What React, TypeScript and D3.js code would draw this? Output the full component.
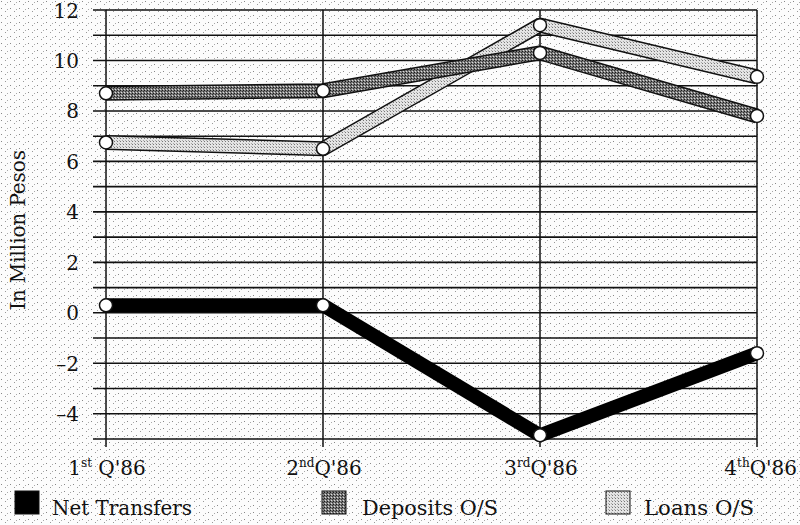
import React from "react";
import * as d3 from "d3";

const quarters = ["Q1", "Q2", "Q3", "Q4"];
const quarterNums = ["1", "2", "3", "4"];
const quarterSups = ["st", "nd", "rd", "th"];
const netTransfers = [0.3, 0.3, -4.85, -1.6];
const depositsOS = [8.7, 8.8, 10.3, 7.8];
const loansOS = [6.75, 6.5, 11.4, 9.35];
const yTicks = [-4, -2, 0, 2, 4, 6, 8, 10, 12];
const yGrid = d3.range(-5, 13);
const legendItems = ["Net Transfers", "Deposits O/S", "Loans O/S"];

const FONT = "'DejaVu Serif', serif";

export default function App() {
  const W = 800, H = 525;
  const x = d3.scalePoint<string>().domain(quarters).range([106, 757]);
  const y = d3.scaleLinear().domain([-5, 12]).range([439, 10]);
  const line = d3
    .line<number>()
    .x((_, i) => x(quarters[i]) as number)
    .y((d) => y(d));

  const band = (vals: number[], fill: string, key: string) => (
    <g key={key}>
      <path d={line(vals) || ""} fill="none" stroke="#111" strokeWidth={15} strokeLinejoin="round" />
      <path d={line(vals) || ""} fill="none" stroke={fill} strokeWidth={12} strokeLinejoin="round" />
    </g>
  );

  const circles = (vals: number[], key: string) =>
    vals.map((v, i) => (
      <circle key={key + i} cx={x(quarters[i])} cy={y(v)} r={6.5} fill="#fff" stroke="#111" strokeWidth={1.5} />
    ));

  const legendX = [15, 322, 606];
  const legendText = [52, 362, 644];
  const legendLen = [140, 136, 110];
  const legendFill = ["#000", "url(#darkDots)", "url(#lightDots)"];

  return (
    <svg width={W} height={H} style={{ position: "absolute", left: 0, top: 0 }}>
      <defs>
        <pattern id="bgDots" width="9" height="7" patternUnits="userSpaceOnUse">
          <rect width="9" height="7" fill="#fcfcfc" />
          <rect x="1" y="1" width="1" height="1" fill="#888" />
          <rect x="5" y="4" width="1" height="1" fill="#999" />
          <rect x="7" y="2" width="1" height="1" fill="#aaa" />
        </pattern>
        <pattern id="darkDots" width="3" height="3" patternUnits="userSpaceOnUse">
          <rect width="3" height="3" fill="#7a7a7a" />
          <rect x="0" y="0" width="1" height="1" fill="#1a1a1a" />
          <rect x="2" y="1" width="1" height="1" fill="#333" />
          <rect x="1" y="2" width="1" height="1" fill="#ddd" />
        </pattern>
        <pattern id="lightDots" width="3" height="3" patternUnits="userSpaceOnUse">
          <rect width="3" height="3" fill="#e4e4e4" />
          <rect x="0" y="0" width="1" height="1" fill="#777" />
          <rect x="2" y="2" width="1" height="1" fill="#aaa" />
        </pattern>
      </defs>
      <rect width={W} height={H} fill="url(#bgDots)" />

      {yGrid.map((v) => (
        <line key={"g" + v} x1={93} x2={757} y1={y(v)} y2={y(v)} stroke="#111" strokeWidth={1.6} />
      ))}
      {quarters.map((q) => (
        <line key={"v" + q} x1={x(q)} x2={x(q)} y1={y(12)} y2={447} stroke="#111" strokeWidth={1.5} />
      ))}

      {yTicks.map((v) => (
        <text key={"t" + v} x={79} y={y(v) + 7.5} textAnchor="end" fontFamily={FONT} fontSize={20} fill="#111">
          {v < 0 ? "–" + Math.abs(v) : String(v)}
        </text>
      ))}

      <text
        transform="translate(25,230) rotate(-90)"
        textAnchor="middle"
        fontFamily={FONT}
        fontSize={20}
        fill="#111"
        textLength={160}
        lengthAdjust="spacing"
      >
        In Million Pesos
      </text>

      {quarters.map((q, i) => (
        <text
          key={"x" + q}
          x={i === 3 ? 797 : (x(q) as number) + 1}
          y={475}
          textAnchor={i === 3 ? "end" : "middle"}
          fontFamily={FONT}
          fontSize={20}
          fill="#111"
        >
          {quarterNums[i]}
          <tspan fontSize={12} dy={-8}>{quarterSups[i]}</tspan>
          <tspan dy={8}>{i === 0 ? " Q'86" : "Q'86"}</tspan>
        </text>
      ))}

      <path d={line(netTransfers) || ""} fill="none" stroke="#000" strokeWidth={14} strokeLinejoin="round" />
      {band(loansOS, "url(#lightDots)", "loans")}
      {band(depositsOS, "url(#darkDots)", "dep")}
      {circles(netTransfers, "n")}
      {circles(loansOS, "l")}
      {circles(depositsOS, "d")}

      {legendItems.map((name, i) => (
        <g key={"lg" + i}>
          <rect x={legendX[i]} y={491} width={24} height={23} fill={legendFill[i]} stroke="#111" strokeWidth={1} />
          <text
            x={legendText[i]}
            y={515}
            fontFamily={FONT}
            fontSize={20}
            fill="#111"
            textLength={legendLen[i]}
            lengthAdjust="spacingAndGlyphs"
          >
            {name}
          </text>
        </g>
      ))}
    </svg>
  );
}
